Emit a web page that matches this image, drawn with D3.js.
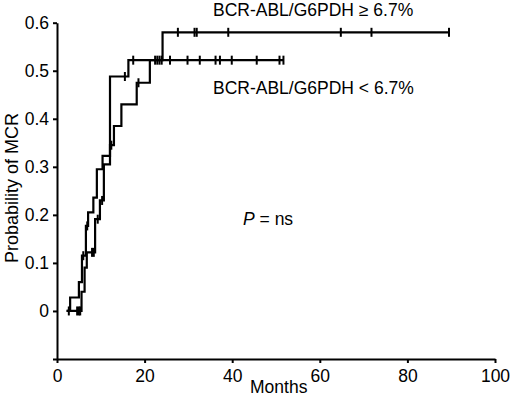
<!DOCTYPE html>
<html>
<head>
<meta charset="utf-8">
<script src="https://cdn.jsdelivr.net/npm/d3@7"></script>
<style>
  html, body { margin: 0; padding: 0; background: #fff; }
  svg { display: block; font-family: Arial, "Liberation Sans", sans-serif; }
  .axis path, .axis line { stroke: #000; stroke-width: 2; }
  .axis text { font-size: 17.5px; fill: #000; }
</style>
</head>
<body>
<svg id="chart" width="520" height="397"></svg>
<script>
  // BCR-ABL/G6PDH < 6.7% (step times in months, cumulative probability of MCR)
  const lowTimes = [2.2, 3.0, 5.0, 5.7, 6.6, 7.1, 8.3, 9.1, 10.4, 12.1, 16.3, 51.7];
  const lowProb = [0, 0.028, 0.06, 0.115, 0.177, 0.205, 0.236, 0.295, 0.323, 0.488, 0.522, 0.522];
  const lowCensor = [6.0, 6.9, 15.5, 17.4, 22.4, 22.9, 23.4, 23.9, 25.8, 29.8, 32.6, 36.2, 37.2, 39.9, 45.6, 50.8, 51.7];

  // BCR-ABL/G6PDH >= 6.7%
  const highTimes = [2.2, 5.6, 6.3, 6.8, 8.7, 9.8, 10.7, 12.1, 13.0, 14.7, 18.2, 21.2, 24.1, 89.5];
  const highProb = [0, 0.04, 0.09, 0.122, 0.191, 0.23, 0.305, 0.345, 0.385, 0.43, 0.475, 0.522, 0.58, 0.58];
  const highCensor = [2.7, 4.6, 5.0, 5.3, 8.0, 8.4, 9.3, 10.3, 12.4, 18.6, 27.6, 31.4, 31.9, 39.1, 64.8, 71.8, 89.5];

  const xTicks = [0, 20, 40, 60, 80, 100];
  const yTicks = [-0.1, 0, 0.1, 0.2, 0.3, 0.4, 0.5, 0.6];

  const svg = d3.select('#chart');
  const x = d3.scaleLinear().domain([0, 100]).range([57, 495]);
  const y = d3.scaleLinear().domain([-0.1, 0.6]).range([359, 22.7]);

  // axes
  svg.append('g')
    .attr('class', 'axis')
    .attr('transform', 'translate(0,359)')
    .call(d3.axisBottom(x).tickValues(xTicks).tickSize(4).tickSizeOuter(0).tickPadding(7));

  svg.append('g')
    .attr('class', 'axis')
    .attr('transform', 'translate(57,0)')
    .call(d3.axisLeft(y).tickValues(yTicks).tickSize(4).tickSizeOuter(0).tickPadding(4)
      .tickFormat(function (d) {
        if (d < 0) return '';
        return d === 0 ? '0' : d3.format('.1f')(d);
      }));

  function zip(times, probs) {
    return times.map(function (t, i) { return [t, probs[i]]; });
  }

  function probAt(times, probs, t) {
    let p = probs[0];
    for (let i = 0; i < times.length; i += 1) {
      if (times[i] <= t + 1e-9) p = probs[i];
    }
    return p;
  }

  const line = d3.line()
    .x(function (d) { return x(d[0]); })
    .y(function (d) { return y(d[1]); })
    .curve(d3.curveStepAfter);

  const series = [
    { times: lowTimes, probs: lowProb, censor: lowCensor },
    { times: highTimes, probs: highProb, censor: highCensor }
  ];

  series.forEach(function (s) {
    svg.append('path')
      .datum(zip(s.times, s.probs))
      .attr('fill', 'none')
      .attr('stroke', '#000')
      .attr('stroke-width', 2.2)
      .attr('d', line);

    svg.append('g')
      .selectAll('line')
      .data(s.censor)
      .join('line')
      .attr('x1', function (d) { return x(d); })
      .attr('x2', function (d) { return x(d); })
      .attr('y1', function (d) { return y(probAt(s.times, s.probs, d)) - 4.5; })
      .attr('y2', function (d) { return y(probAt(s.times, s.probs, d)) + 4.5; })
      .attr('stroke', '#000')
      .attr('stroke-width', 2);
  });

  // labels
  const labelFont = '17.5px';
  svg.append('text')
    .attr('x', 213).attr('y', 15.5)
    .style('font-size', labelFont)
    .text('BCR-ABL/G6PDH ≥ 6.7%');

  svg.append('text')
    .attr('x', 213).attr('y', 94)
    .style('font-size', labelFont)
    .text('BCR-ABL/G6PDH < 6.7%');

  const pText = svg.append('text')
    .attr('x', 243).attr('y', 225)
    .style('font-size', labelFont);
  pText.append('tspan').style('font-style', 'italic').text('P');
  pText.append('tspan').text(' = ns');

  svg.append('text')
    .attr('x', 250).attr('y', 393)
    .style('font-size', labelFont)
    .text('Months');

  svg.append('text')
    .attr('transform', 'translate(18,188) rotate(-90)')
    .attr('text-anchor', 'middle')
    .style('font-size', '18px')
    .text('Probability of MCR');
</script>
</body>
</html>
